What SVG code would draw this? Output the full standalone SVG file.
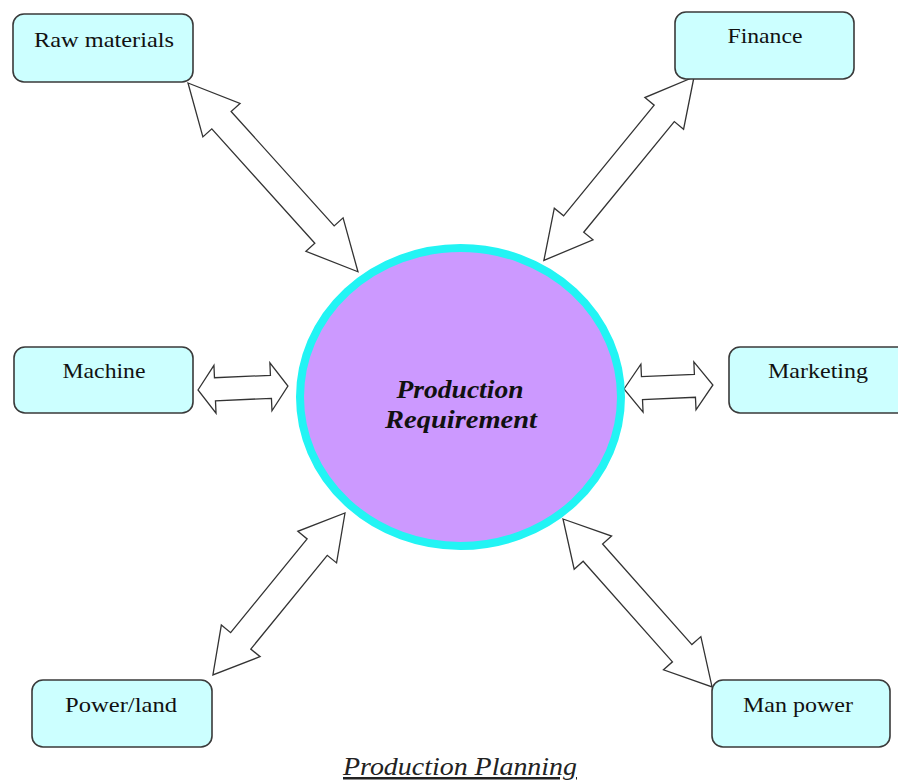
<svg xmlns="http://www.w3.org/2000/svg" width="898" height="780" viewBox="0 0 898 780">
  <style>
    .box { fill: #CCFFFF; stroke: #3a3a3a; stroke-width: 1.6; }
    .lbl { font-family: "Liberation Serif", "Times New Roman", serif; font-size: 22px; fill: #111; text-anchor: middle; }
    .arrow { fill: #ffffff; stroke: #333333; stroke-width: 1.3; stroke-linejoin: miter; }
    .core { fill: #CC99FF; stroke: #22F4F4; stroke-width: 8; }
    .coreText { font-family: "Liberation Serif", "Times New Roman", serif; font-size: 25px; font-weight: bold; font-style: italic; fill: #111; text-anchor: middle; }
    .caption { font-family: "Liberation Serif", "Times New Roman", serif; font-size: 25px; font-style: italic; fill: #222; text-anchor: middle; text-decoration: underline; }
  </style>
  <rect width="898" height="780" fill="#ffffff"/>

  <!-- double-headed block arrows linking each resource to the core -->
  <g id="connectors">
    <polygon class="arrow" transform="translate(188,83) rotate(48)" points="0,0 50,-25 50,-13 204,-13 204,-25 254,0 204,25 204,13 50,13 50,25"/>
    <polygon class="arrow" transform="translate(694,77) rotate(129.3)" points="0,0 47,-25 47,-13 190,-13 190,-25 237,0 190,25 190,13 47,13 47,25"/>
    <polygon class="arrow" transform="translate(198,390) rotate(-2.5)" points="0,0 17,-24 17,-11.5 73,-11.5 73,-24 90,0 73,24 73,11.5 17,11.5 17,24"/>
    <polygon class="arrow" transform="translate(624,389) rotate(-2.6)" points="0,0 18,-24 18,-11.5 71,-11.5 71,-24 89,0 71,24 71,11.5 18,11.5 18,24"/>
    <polygon class="arrow" transform="translate(345,513) rotate(129.2)" points="0,0 44,-25 44,-13 165,-13 165,-25 209,0 165,25 165,13 44,13 44,25"/>
    <polygon class="arrow" transform="translate(563,519) rotate(48.4)" points="0,0 45,-25 45,-13 179.5,-13 179.5,-25 224.5,0 179.5,25 179.5,13 45,13 45,25"/>
  </g>

  <g id="production-requirement">
    <ellipse class="core" cx="460.5" cy="397" rx="160.5" ry="149"/>
    <text class="coreText" x="460" y="398" textLength="127" lengthAdjust="spacingAndGlyphs">Production</text>
    <text class="coreText" x="461" y="428" textLength="152" lengthAdjust="spacingAndGlyphs">Requirement</text>
  </g>

  <g id="raw-materials">
    <rect class="box" x="13" y="14" width="180" height="68" rx="11"/>
    <text class="lbl" x="104" y="47" textLength="140" lengthAdjust="spacingAndGlyphs">Raw materials</text>
  </g>

  <g id="finance">
    <rect class="box" x="675" y="12" width="179" height="67" rx="11"/>
    <text class="lbl" x="765" y="43" textLength="75" lengthAdjust="spacingAndGlyphs">Finance</text>
  </g>

  <g id="machine">
    <rect class="box" x="14" y="347" width="179" height="66" rx="11"/>
    <text class="lbl" x="104" y="378" textLength="83" lengthAdjust="spacingAndGlyphs">Machine</text>
  </g>

  <g id="marketing">
    <rect class="box" x="729" y="347" width="180" height="66" rx="11"/>
    <text class="lbl" x="818" y="378" textLength="100" lengthAdjust="spacingAndGlyphs">Marketing</text>
  </g>

  <g id="power-land">
    <rect class="box" x="32" y="680" width="180" height="67" rx="11"/>
    <text class="lbl" x="121" y="712" textLength="112" lengthAdjust="spacingAndGlyphs">Power/land</text>
  </g>

  <g id="man-power">
    <rect class="box" x="712" y="680" width="178" height="67" rx="11"/>
    <text class="lbl" x="798" y="712" textLength="110" lengthAdjust="spacingAndGlyphs">Man power</text>
  </g>

  <g id="caption">
    <text class="caption" x="460" y="775" textLength="234" lengthAdjust="spacingAndGlyphs">Production Planning</text>
  </g>
</svg>
